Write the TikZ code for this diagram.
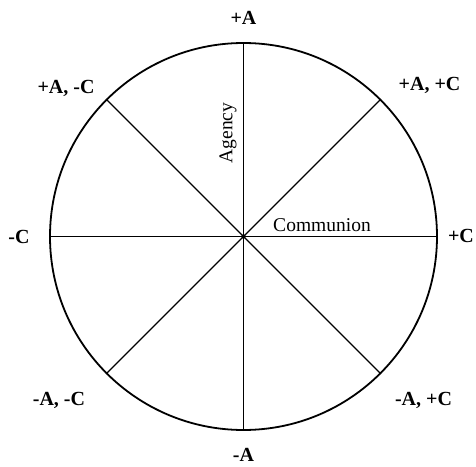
\documentclass[tikz,border=0pt]{standalone}
\usepackage{fontspec}
\setmainfont{Liberation Serif}
\tikzset{
  pole/.style={font=\fontsize{20}{24}\selectfont\bfseries, inner sep=0pt},
  axis/.style={font=\fontsize{19.5}{23}\selectfont, inner sep=0pt},
  spoke/.style={line width=1.4pt},
  rim/.style={circle, draw, line width=1.8pt, minimum size=387pt, inner sep=0pt}
}
\begin{document}
\begin{tikzpicture}[x=1pt,y=1pt]
\useasboundingbox (-243.5,-229.5) rectangle (232.5,236.5);
\node[rim] (wheel) at (0,0) {};
\coordinate (c) at (0,0);
\foreach \a in {0,45,...,315}
  \draw[spoke] (c) -- (wheel.\a);
\fill (c) circle (2.2pt);

\node[pole] (pA) at (0,218.5) {+A};
\node[pole] (pApC) at (186,151) {+A, +C};
\node[pole] (pC) at (217.5,1) {+C};
\node[pole] (mApC) at (180,-163.5) {-A, +C};
\node[pole] (mA) at (0,-218.5) {-A};
\node[pole] (mAmC) at (-184.5,-163.5) {-A, -C};
\node[pole] (mC) at (-224.5,0) {-C};
\node[pole] (pAmC) at (-177.5,148.5) {+A, -C};

\node[axis, rotate=90] (agency) at (-15.5,103.5) {Agency};
\node[axis, anchor=base] (communion) at (78.5,5.5) {Communion};
\end{tikzpicture}
\end{document}
